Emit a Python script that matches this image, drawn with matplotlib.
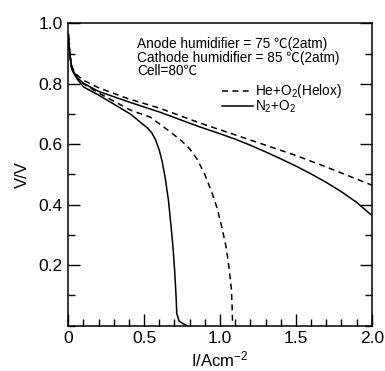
import matplotlib
matplotlib.use("Agg")
import matplotlib.pyplot as plt
from matplotlib.ticker import MultipleLocator

plt.rcParams['font.family'] = ['Liberation Sans', 'Noto Sans CJK JP', 'DejaVu Sans']
plt.rcParams['mathtext.default'] = 'regular'

# Helox (He+O2), upper and lower dashed curves
helox_hi_i = [0.0, 0.005, 0.01, 0.02, 0.03, 0.06, 0.1, 0.2, 0.4, 0.6, 0.87, 1.0, 1.26, 1.5, 1.7, 2.0]
helox_hi_v = [0.965, 0.93, 0.90, 0.865, 0.85, 0.828, 0.812, 0.787, 0.75, 0.72, 0.67, 0.648, 0.604, 0.563, 0.525, 0.465]
helox_lo_i = [0.0, 0.005, 0.01, 0.02, 0.03, 0.06, 0.1, 0.2, 0.41, 0.54, 0.63, 0.7, 0.75, 0.8, 0.85, 0.9, 0.95, 0.98, 1.01, 1.04, 1.06, 1.075, 1.08, 1.083]
helox_lo_v = [0.965, 0.93, 0.90, 0.86, 0.845, 0.82, 0.80, 0.77, 0.713, 0.69, 0.657, 0.63, 0.61, 0.585, 0.55, 0.50, 0.435, 0.39, 0.33, 0.26, 0.19, 0.12, 0.06, 0.0]

# Air-like (N2+O2), upper and lower solid curves
n2_hi_i = [0.0, 0.005, 0.01, 0.02, 0.03, 0.06, 0.1, 0.2, 0.4, 0.6, 0.87, 1.0, 1.1, 1.2, 1.3, 1.4, 1.5, 1.6, 1.7, 1.8, 1.9, 2.0]
n2_hi_v = [0.965, 0.93, 0.90, 0.86, 0.845, 0.82, 0.802, 0.775, 0.74, 0.707, 0.657, 0.635, 0.617, 0.597, 0.575, 0.552, 0.528, 0.502, 0.474, 0.443, 0.408, 0.365]
n2_lo_i = [0.0, 0.005, 0.01, 0.02, 0.03, 0.06, 0.1, 0.2, 0.41, 0.47, 0.52, 0.55, 0.575, 0.6, 0.62, 0.64, 0.66, 0.675, 0.69, 0.70, 0.71, 0.715, 0.73, 0.76, 0.78]
n2_lo_v = [0.965, 0.93, 0.90, 0.855, 0.84, 0.815, 0.79, 0.763, 0.70, 0.675, 0.655, 0.638, 0.615, 0.58, 0.54, 0.485, 0.415, 0.34, 0.26, 0.19, 0.10, 0.04, 0.015, 0.005, 0.0]

conditions = ["Anode humidifier = 75 ℃(2atm)",
              "Cathode humidifier = 85 ℃(2atm)",
              "Cell=80℃"]

fig = plt.figure(figsize=(3.85, 3.71), dpi=100)
ax = fig.add_axes([0.1774, 0.1226, 0.7881, 0.8141])

dash = (3.9, 2.9)
ax.plot(helox_hi_i, helox_hi_v, color='black', lw=1.1, dashes=dash, label='He+O$_2$(Helox)')
ax.plot(n2_hi_i, n2_hi_v, color='black', lw=1.1, label='N$_2$+O$_2$')
ax.plot(helox_lo_i, helox_lo_v, color='black', lw=1.1, dashes=dash)
ax.plot(n2_lo_i, n2_lo_v, color='black', lw=1.1)

ax.set_xlim(0, 2.0)
ax.set_ylim(0, 1.0)
ax.xaxis.set_major_locator(MultipleLocator(0.5))
ax.xaxis.set_minor_locator(MultipleLocator(0.1))
ax.yaxis.set_major_locator(MultipleLocator(0.2))
ax.yaxis.set_minor_locator(MultipleLocator(0.1))
ax.set_xticks([0, 0.5, 1.0, 1.5, 2.0])
ax.set_xticklabels(['0', '0.5', '1.0', '1.5', '2.0'])
ax.set_yticks([0.2, 0.4, 0.6, 0.8, 1.0])
ax.set_yticklabels(['0.2', '0.4', '0.6', '0.8', '1.0'])

ax.tick_params(which='both', direction='in', top=False, right=True, labelsize=12.5, width=1.0)
ax.tick_params(which='major', length=8.5, pad=4)
ax.tick_params(which='minor', length=5)
for s in ax.spines.values():
    s.set_linewidth(1.1)

ax.set_xlabel('I/Acm$^{-2}$', fontsize=12, labelpad=2.5)
ax.set_ylabel('V/V', fontsize=12, labelpad=6)

ax.text(0.228, 0.955, "\n".join(conditions), transform=ax.transAxes,
        fontsize=9.8, va='top', ha='left', linespacing=0.95)

ax.legend(loc='upper left', bbox_to_anchor=(0.505, 0.805), frameon=False,
          fontsize=9.8, handlelength=2.3, handletextpad=0.15,
          labelspacing=-0.1, borderpad=0, borderaxespad=0)

fig.savefig('out.png', dpi=100)
